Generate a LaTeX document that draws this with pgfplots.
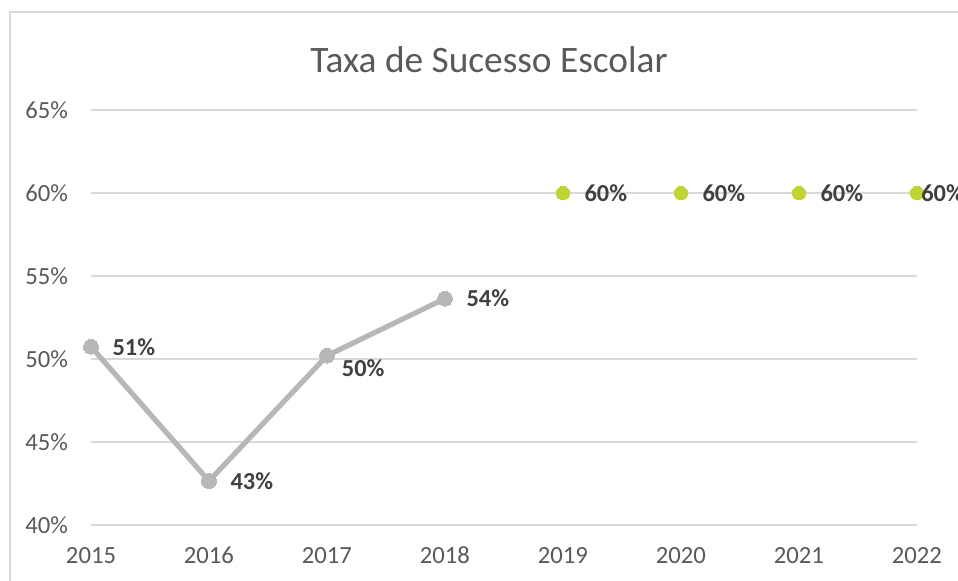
\documentclass[border=0pt]{standalone}
\usepackage{fontspec}
\setmainfont{Carlito}
\usepackage{pgfplots}
\pgfplotsset{compat=1.18}
\definecolor{gridc}{HTML}{D9D9D9}
\definecolor{linec}{HTML}{B7B7B7}
\definecolor{greenc}{HTML}{C0D62E}
\definecolor{labc}{HTML}{404040}
\definecolor{tickc}{HTML}{595959}
\begin{document}
\begin{tikzpicture}[x=0.75pt,y=0.75pt]
\clip (0,0) rectangle (958,-581);
\path[use as bounding box] (0,0) rectangle (958,-581);
\draw[gridc, line width=1.3pt] (10,-12) rectangle (990,-620);
\node[anchor=base, text=tickc, font=\fontsize{28}{30}\selectfont, inner sep=0pt] at (489,-73) {Taxa de Sucesso Escolar};
\begin{axis}[
  at={(68.25pt,-393.75pt)}, anchor=south west,
  scale only axis, width=619.5pt, height=311.25pt,
  xmin=2015, xmax=2022, ymin=40, ymax=65,
  xtick={2015,...,2022}, ytick={40,45,...,65},
  ymajorgrids, grid style={gridc, line width=1.1pt},
  axis line style={draw=none}, major tick length=0pt,
  clip=false,
  /pgf/number format/assume math mode=true,
  /pgf/number format/1000 sep={},
  ticklabel style={text=tickc, font=\fontsize{18.5}{21}\selectfont},
  yticklabel={\pgfmathprintnumber{\tick}\%},
  yticklabel style={anchor=east, inner sep=0pt, xshift=-17pt},
  xticklabel style={anchor=base, inner sep=0pt, yshift=-29pt},
]
\addplot[linec, line width=3.9pt, mark=*, mark size=5.6pt, mark options={fill=linec, draw=linec, line width=0pt}]
  coordinates {(2015,50.74) (2016,42.65) (2017,50.2) (2018,53.64)};
\addplot[only marks, mark=*, mark size=4.9pt, mark options={fill=greenc, draw=greenc, line width=0pt}]
  coordinates {(2019,60) (2020,60) (2021,60) (2022,60)};
% data labels
\addplot[draw=none, mark=none, point meta=explicit symbolic,
  nodes near coords, nodes near coords style={anchor=west, inner sep=0pt, xshift=16pt, text=labc, font=\bfseries\fontsize{18.3}{21}\selectfont}]
  coordinates {(2015,50.74) [51\%] (2016,42.65) [43\%] (2018,53.64) [54\%] (2019,60) [60\%] (2020,60) [60\%] (2021,60) [60\%]};
\addplot[draw=none, mark=none, point meta=explicit symbolic,
  nodes near coords, nodes near coords style={anchor=west, inner sep=0pt, xshift=11pt, yshift=-9.5pt, text=labc, font=\bfseries\fontsize{18.3}{21}\selectfont}]
  coordinates {(2017,50.2) [50\%]};
\addplot[draw=none, mark=none, point meta=explicit symbolic,
  nodes near coords, nodes near coords style={anchor=west, inner sep=0pt, xshift=3pt, text=labc, font=\bfseries\fontsize{18.3}{21}\selectfont}]
  coordinates {(2022,60) [60\%]};
\end{axis}
\end{tikzpicture}
\end{document}
